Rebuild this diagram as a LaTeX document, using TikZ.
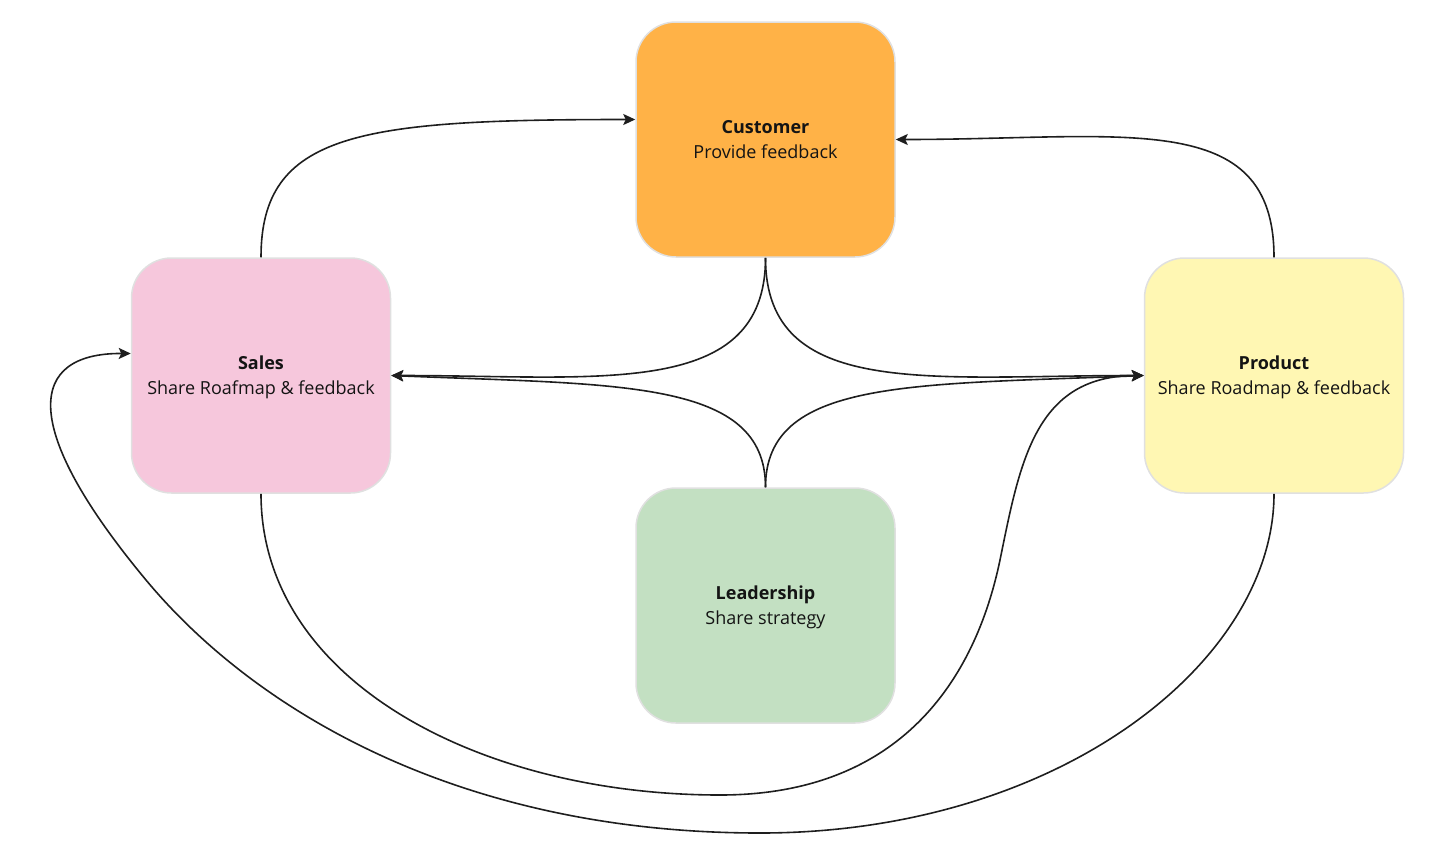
\documentclass[tikz,border=0pt]{standalone}
\usepackage{fontspec}
\setmainfont{Open Sans}
\usetikzlibrary{arrows.meta}

\definecolor{custfill}{HTML}{FFB247}
\definecolor{salesfill}{HTML}{F6C7DC}
\definecolor{prodfill}{HTML}{FFF7B3}
\definecolor{leadfill}{HTML}{C3E0C2}
\definecolor{boxedge}{HTML}{E0E0E0}
\definecolor{lineink}{HTML}{1E1E1E}

\begin{document}
\begin{tikzpicture}[
    x=1pt, y=-1pt,
    teambox/.style={draw=boxedge, line width=1.5pt, rounded corners=40pt,
        minimum width=259pt, minimum height=235pt, align=center, text depth=0pt,
        font=\fontsize{18}{25}\selectfont, text=black!92},
    flowline/.style={draw=lineink, line width=1.6pt,
        -{Stealth[length=12pt, width=11pt, inset=2.5pt]}},
]
    \useasboundingbox (0,0) rectangle (1456,855);

    % four teams, coordinates in pixels of the sketch
    \node[teambox, fill=custfill]  (cust)  at (765.5,139.5) {\textbf{Customer}\\Provide feedback};
    \node[teambox, fill=salesfill] (sales) at (261,375.5)   {\textbf{Sales}\\Share Roafmap \& feedback};
    \node[teambox, fill=prodfill]  (prod)  at (1274,375.5)  {\textbf{Product}\\Share Roadmap \& feedback};
    \node[teambox, fill=leadfill]  (lead)  at (765.5,605.5) {\textbf{Leadership}\\Share strategy};

    % up to the customer
    \draw[flowline] (sales.north) .. controls +(0,-125) and +(-275,0) .. ([yshift=20pt]cust.west);
    \draw[flowline] (prod.north) .. controls +(0,-150) and +(230,0) .. (cust.east);

    % customer and leadership fan out sideways
    \draw[flowline] (cust.south) .. controls +(0,142) and +(209,0) .. (sales.east);
    \draw[flowline] (cust.south) .. controls +(0,142) and +(-214,0) .. (prod.west);
    \draw[flowline] (lead.north) .. controls +(0,-108) and +(229,9.5) .. (sales.east);
    \draw[flowline] (lead.north) .. controls +(0,-108) and +(-234,9.5) .. (prod.west);

    % the two long loops under everything
    \draw[flowline] (sales.south) .. controls +(0,187) and (480,795) .. (720,795)
        .. controls (900,795) and (975,680) .. (1000,560)
        .. controls (1020,462) and (1035,376) .. (prod.west);
    \draw[flowline] (prod.south) .. controls +(0,167) and (1060,833) .. (760,833)
        .. controls (460,833) and (255,711) .. (146,580)
        .. controls (18,426) and (28,353) .. ([yshift=22pt]sales.west);
\end{tikzpicture}
\end{document}
